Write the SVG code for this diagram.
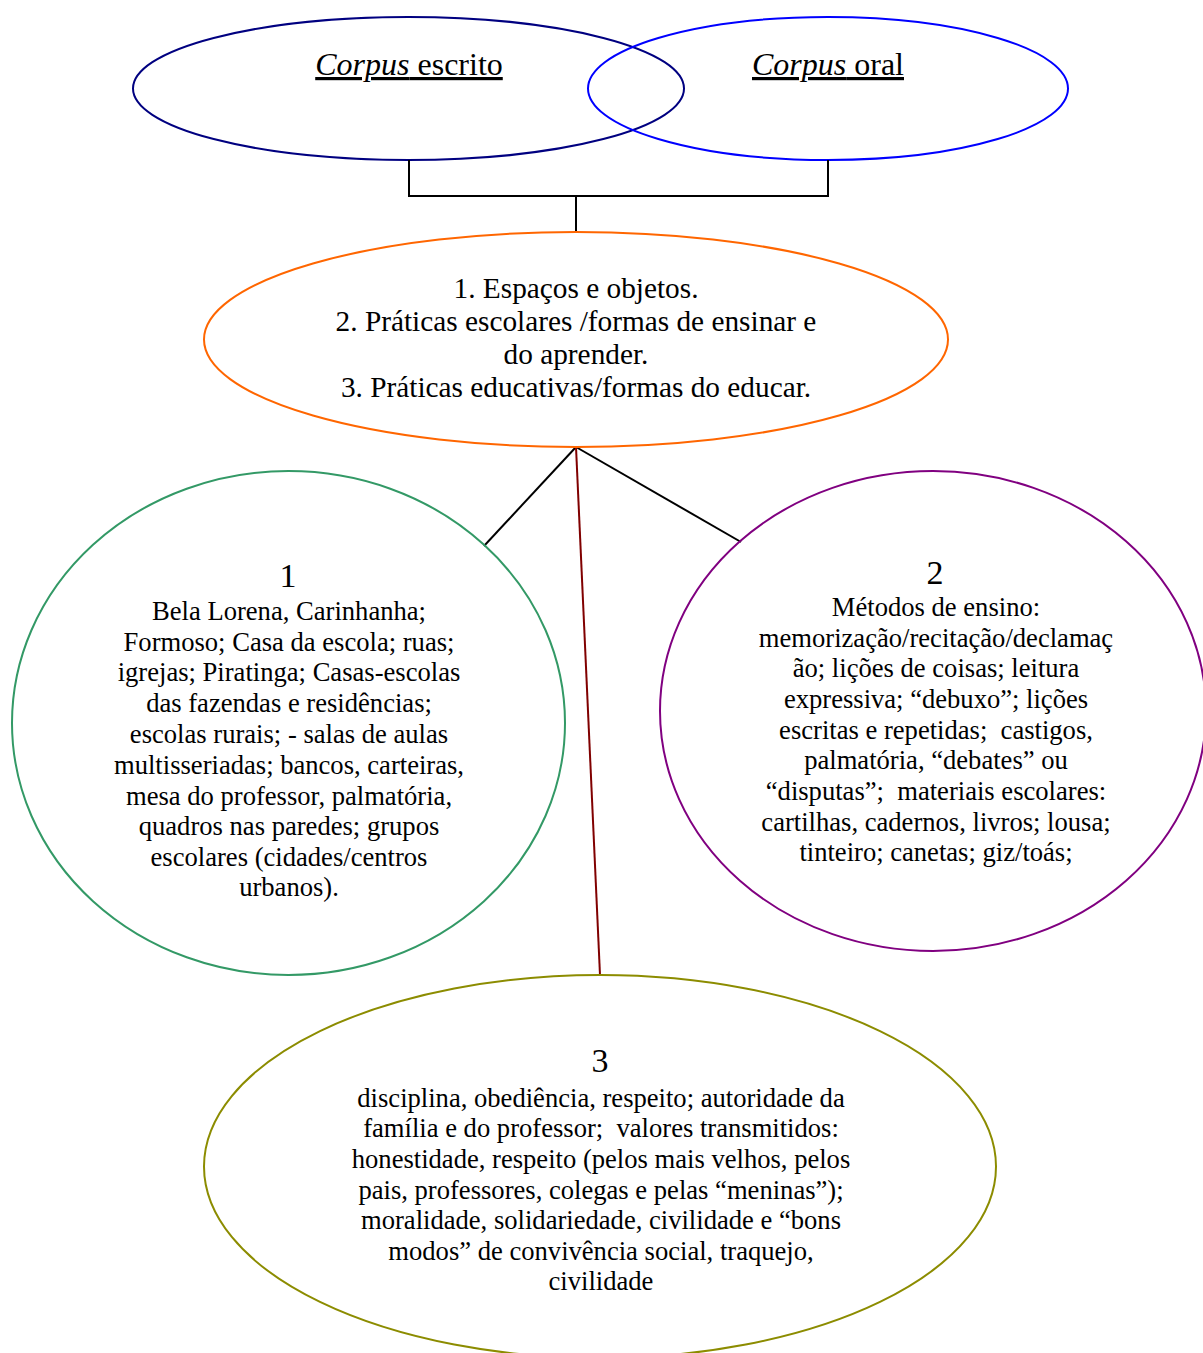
<svg xmlns="http://www.w3.org/2000/svg" width="1203" height="1353" viewBox="0 0 1203 1353">
<style>
text{font-family:"Liberation Serif","Times New Roman",serif;fill:#000;text-anchor:middle}
.t{font-size:32px}
.o{font-size:29.3px}
.b{font-size:26.6px}
.n{font-size:34px}
.e{fill:none;stroke-width:2}
.c{fill:none;stroke:#000;stroke-width:2}
</style>
<rect width="1203" height="1353" fill="#fff"/>
<g id="corpus-escrito">
<ellipse class="e" cx="408.5" cy="88.5" rx="275.5" ry="71.5" stroke="#000080"/>
<text class="t" x="409" y="75" text-decoration="underline"><tspan font-style="italic">Corpus</tspan> escrito</text>
</g>
<g id="corpus-oral">
<ellipse class="e" cx="828" cy="88.5" rx="240" ry="71.5" stroke="#0000ff"/>
<text class="t" x="828" y="75" text-decoration="underline"><tspan font-style="italic">Corpus</tspan> oral</text>
</g>
<g id="connectors">
<polyline class="c" points="409,160 409,196 828,196 828,160"/>
<line class="c" x1="576" y1="196" x2="576" y2="232"/>
<line class="c" x1="576" y1="447" x2="484" y2="546"/>
<line class="c" x1="576" y1="447" x2="741" y2="542"/>
<line x1="576" y1="447" x2="600" y2="975" stroke="#800000" stroke-width="2"/>
</g>
<g id="categorias">
<ellipse class="e" cx="576" cy="339.5" rx="372" ry="107.5" stroke="#ff6600"/>
<text class="o" x="576" y="298">1. Espaços e objetos.</text>
<text class="o" x="576" y="331">2. Práticas escolares /formas de ensinar e</text>
<text class="o" x="576" y="364">do aprender.</text>
<text class="o" x="576" y="397">3. Práticas educativas/formas do educar.</text>
</g>
<g id="no1">
<ellipse class="e" cx="288.5" cy="723" rx="276.5" ry="252" stroke="#339966"/>
<text class="n" x="288" y="587">1</text>
<text class="b" x="289"><tspan x="289" y="620">Bela Lorena, Carinhanha;</tspan><tspan x="289" y="651">Formoso; Casa da escola; ruas;</tspan><tspan x="289" y="681">igrejas; Piratinga; Casas-escolas</tspan><tspan x="289" y="712">das fazendas e residências;</tspan><tspan x="289" y="743">escolas rurais; - salas de aulas</tspan><tspan x="289" y="774">multisseriadas; bancos, carteiras,</tspan><tspan x="289" y="805">mesa do professor, palmatória,</tspan><tspan x="289" y="835">quadros nas paredes; grupos</tspan><tspan x="289" y="866">escolares (cidades/centros</tspan><tspan x="289" y="896">urbanos).</tspan></text>
</g>
<g id="no2">
<ellipse class="e" cx="933" cy="711" rx="273" ry="240" stroke="#800080"/>
<text class="n" x="935" y="584">2</text>
<text class="b" x="936" xml:space="preserve"><tspan x="936" y="616">Métodos de ensino:</tspan><tspan x="936" y="647">memorização/recitação/declamaç</tspan><tspan x="936" y="677">ão; lições de coisas; leitura</tspan><tspan x="936" y="708">expressiva; “debuxo”; lições</tspan><tspan x="936" y="739">escritas e repetidas;  castigos,</tspan><tspan x="936" y="769">palmatória, “debates” ou</tspan><tspan x="936" y="800">“disputas”;  materiais escolares:</tspan><tspan x="936" y="831">cartilhas, cadernos, livros; lousa;</tspan><tspan x="936" y="861">tinteiro; canetas; giz/toás;</tspan></text>
</g>
<g id="no3">
<ellipse class="e" cx="600" cy="1166.5" rx="396" ry="191.5" stroke="#8c8c00"/>
<text class="n" x="600" y="1072">3</text>
<text class="b" x="601" xml:space="preserve"><tspan x="601" y="1107">disciplina, obediência, respeito; autoridade da</tspan><tspan x="601" y="1137">família e do professor;  valores transmitidos:</tspan><tspan x="601" y="1168">honestidade, respeito (pelos mais velhos, pelos</tspan><tspan x="601" y="1199">pais, professores, colegas e pelas “meninas”);</tspan><tspan x="601" y="1229">moralidade, solidariedade, civilidade e “bons</tspan><tspan x="601" y="1260">modos” de convivência social, traquejo,</tspan><tspan x="601" y="1290">civilidade</tspan></text>
</g>
</svg>
